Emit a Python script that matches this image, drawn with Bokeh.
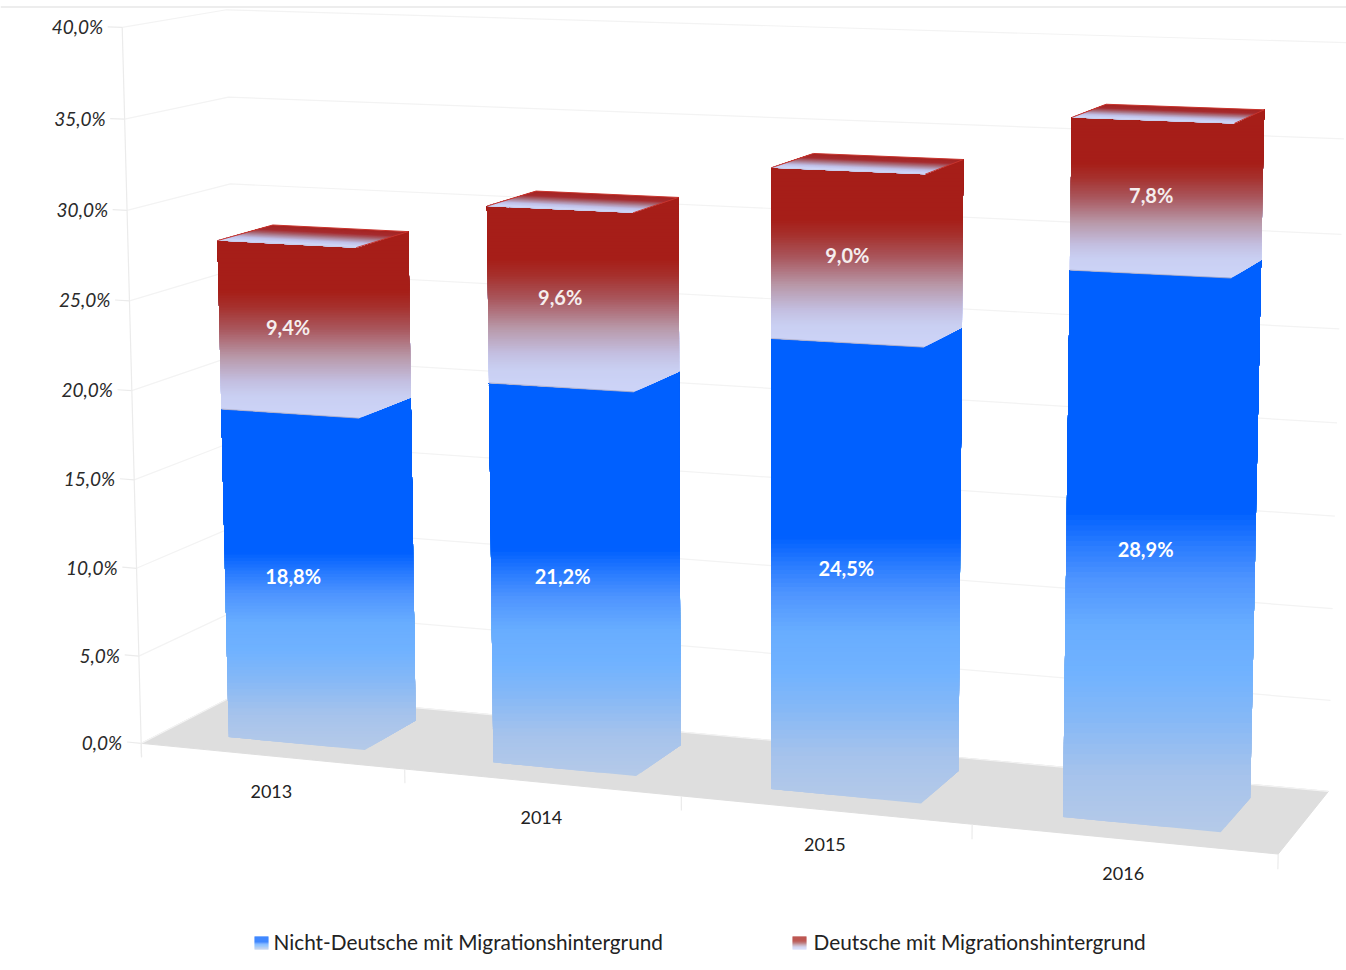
import numpy as np
from bokeh.plotting import figure
from bokeh.models import Range1d, Span
from bokeh.core.properties import value
from bokeh.embed import file_html
from bokeh.resources import INLINE

years = ["2013", "2014", "2015", "2016"]
non_german = [18.8, 21.2, 24.5, 28.9]
german = [9.4, 9.6, 9.0, 7.8]
y_ticks = [0, 5, 10, 15, 20, 25, 30, 35, 40]
legend_labels = ["Nicht-Deutsche mit Migrationshintergrund", "Deutsche mit Migrationshintergrund"]

# bar footprint inside one category cell of the 3D scene
BAR_X0, BAR_X1, BAR_Z0, BAR_Z1 = 0.26, 0.78, 0.20, 0.75
BAR_BASE = 0.12
N_CAT, V_MAX = 4, 40.0

# camera calibration: scene (x, value, z) -> picture (px, py)
walls = [((0, 0, 0), (141, 743)), ((4, 0, 0), (1280, 855)), ((4, 0, 1), (1331, 790)),
         ((0, 0, 1), (243, 691)), ((0, 40, 0), (123, 26)), ((0, 40, 1), (222, 9)),
         ((1, 0, 0), (405, 771)), ((2, 0, 0), (682, 800)), ((3, 0, 0), (973, 826))]
def bar_pts(i, v1, v2, q):
    x0, x1 = i + BAR_X0, i + BAR_X1
    return [((x0, 0, BAR_Z0), q[0]), ((x1, 0, BAR_Z0), q[1]), ((x1, 0, BAR_Z1), q[2]),
            ((x0, v1, BAR_Z0), q[3]), ((x1, v1, BAR_Z0), q[4]), ((x1, v1, BAR_Z1), q[5]),
            ((x0, v2, BAR_Z0), q[6]), ((x1, v2, BAR_Z0), q[7]), ((x1, v2, BAR_Z1), q[8]),
            ((x0, v2, BAR_Z1), q[9])]
seen = [[(227, 738), (365, 750), (415, 722), (220, 408), (358, 417), (411, 398), (217, 240), (360, 247), (409, 232), (270, 225)],
        [(491, 764), (635, 776), (680, 746), (488, 382), (635, 391), (679, 372), (486, 206), (633, 212), (679, 197), (538, 191)],
        [(769, 790), (920, 803), (957, 773), (769, 338), (922, 346), (961, 328), (770, 167), (925, 174), (963, 159), (815, 153)],
        [(1060, 817), (1220, 833), (1248, 800), (1068, 269), (1228, 276), (1260, 260), (1070, 117), (1237, 123), (1264, 110), (1105, 104)]]
anchors = list(walls)
for i in range(N_CAT):
    anchors += bar_pts(i, non_german[i], non_german[i] + german[i], seen[i])

rows = []
for (X, V, Z), (u, w) in anchors:
    u, w = u / 1000.0, w / 1000.0
    W = [X, V / 10.0, Z, 1.0]
    rows.append(W + [0, 0, 0, 0] + [-u * c for c in W])
    rows.append([0, 0, 0, 0] + W + [-w * c for c in W])
CAM = np.linalg.svd(np.array(rows))[2][-1].reshape(3, 4)

def proj(x, v, z):
    h = CAM @ np.array([x, v / 10.0, z, 1.0])
    return 1000.0 * h[0] / h[2], 1000.0 * h[1] / h[2]

def mix(stops, t):
    ts = [s[0] for s in stops]
    rgb = [np.interp(t, ts, [int(s[1][k:k + 2], 16) for s in stops]) for k in (1, 3, 5)]
    return "#%02x%02x%02x" % tuple(int(round(c)) for c in rgb)

BLUE = [(0, "#b5cae8"), (0.10, "#a6c3ec"), (0.20, "#85b8f6"), (0.28, "#70b2ff"), (0.36, "#68adff"),
        (0.44, "#4f95ff"), (0.50, "#2a7cff"), (0.56, "#0060ff"), (1, "#0060ff")]
RED = [(0, "#cdd4f8"), (0.12, "#c9cff2"), (0.20, "#c3bee0"), (0.33, "#b898a8"), (0.48, "#a9565c"),
       (0.60, "#a6302c"), (0.68, "#a61e18"), (1, "#a61e18")]
CAP = [(0, "#a52420"), (0.28, "#a62c30"), (0.48, "#a86a78"), (0.75, "#c0c0e8"), (0.95, "#cfd8fa"), (1, "#c8c0d4")]

p = figure(width=1346, height=970, output_backend="svg", toolbar_location=None,
           x_range=Range1d(0, 1346), y_range=Range1d(970, 0), min_border=0,
           x_axis_type=None, y_axis_type=None, outline_line_color=None)
p.grid.visible = False
p.background_fill_color = "white"
p.add_layout(Span(location=6.5, dimension="width", line_color="#dcdcdc", line_width=1.2))

def poly(corners):
    pts = [proj(*c) for c in corners]
    return [a for a, _ in pts], [b for _, b in pts]

# floor
fx, fy = poly([(0, 0, 0), (N_CAT, 0, 0), (N_CAT, 0, 1), (0, 0, 1)])
p.patch(fx, fy, fill_color="#dedede", line_color="#dedede")

# wall grid, axis, ticks
GRID = "#f3f3f3"
AXIS = "#ebebeb"
for t in y_ticks:
    a = proj(-0.055, t, 0); b = proj(0, t, 0); c = proj(0, t, 1); d = proj(N_CAT, t, 1)
    p.line([b[0], c[0], d[0]], [b[1], c[1], d[1]], line_color=GRID, line_width=1.2)
    p.line([a[0], b[0]], [a[1], b[1]], line_color=AXIS, line_width=1.2)
ax, ay = poly([(0, -0.8, 0), (0, V_MAX, 0)])
p.line(ax, ay, line_color=AXIS, line_width=1.2)
for i in range(N_CAT + 1):
    tx, ty = poly([(i, 0, 0), (i, -0.8, 0)])
    p.line(tx, ty, line_color=AXIS, line_width=1.2)

def clip_above(px, py, limit):
    """Part of a convex outline that lies above the picture height `limit`."""
    ox, oy = [], []
    m = len(px)
    for k in range(m):
        x1, y1, x2, y2 = px[k], py[k], px[(k + 1) % m], py[(k + 1) % m]
        if y1 <= limit:
            ox.append(x1); oy.append(y1)
        if (y1 <= limit) != (y2 <= limit):
            s = (limit - y1) / (y2 - y1)
            ox.append(x1 + s * (x2 - x1)); oy.append(limit)
    return ox, oy

def fade(px, py, stops, n=110):
    """Fill an outline with a fade that runs straight up the picture."""
    lo, hi = max(py), min(py)
    xs, ys, cs = [], [], []
    for k in range(n):
        limit = lo + (hi - lo) * k / n
        qx, qy = clip_above(px, py, limit + 0.01)
        if len(qx) >= 3:
            xs.append(qx); ys.append(qy); cs.append(mix(stops, (k + 0.5) / n))
    p.patches(xs, ys, fill_color=cs, line_color=None)

for i in range(N_CAT):
    b = non_german[i]; t = b + german[i]
    x0, x1 = i + BAR_X0, i + BAR_X1
    for v0, v1, stops in ((BAR_BASE, b, BLUE), (b, t, RED)):
        hx, hy = poly([(x0, v0, BAR_Z0), (x1, v0, BAR_Z0), (x1, v0, BAR_Z1),
                       (x1, v1, BAR_Z1), (x1, v1, BAR_Z0), (x0, v1, BAR_Z0)])
        fade(hx, hy, stops)
    # top face, back to front
    xs, ys, cs = [], [], []
    n = 30
    for k in range(n):
        z1 = BAR_Z1 + (BAR_Z0 - BAR_Z1) * k / n
        qx, qy = poly([(x0, t, z1), (x1, t, z1), (x1, t, BAR_Z0), (x0, t, BAR_Z0)])
        xs.append(qx); ys.append(qy); cs.append(mix(CAP, (k + 0.5) / n))
    p.patches(xs, ys, fill_color=cs, line_color=None)
    ex, ey = poly([(x0, t, BAR_Z0), (x0, t, BAR_Z1), (x1, t, BAR_Z1), (x1, t, BAR_Z0)])
    p.line(ex, ey, line_color="#c8332c", line_width=1)
    sx, sy = poly([(x0, b, BAR_Z0), (x1, b, BAR_Z0)])
    p.line(sx, sy, line_color="#a9a9c4", line_width=0.8)

def text(x, y, s, size, color="#222222", align="left", style="normal", dy=0):
    p.text([x], [y], text=[s], text_font=value("Lato"), text_font_size=size, text_color=color,
           text_align=align, text_baseline="middle", text_font_style=style, y_offset=dy)

def pct(v):
    return f"{v:.1f}".replace(".", ",") + "%"

for t in y_ticks:
    x, y = proj(0, t, 0)
    text(x - 19, y, pct(t), "19px", "#2a2a2a", "right", "italic", dy=-1)

for i, yr in enumerate(years):
    x, y = proj(i + 0.5, 0, 0)
    text(x, y, yr, "18px", "#222222", "center", dy=35)

for i in range(N_CAT):
    mid = i + (BAR_X0 + BAR_X1) / 2
    b = non_german[i]; g = german[i]
    x, y = proj(mid, b / 2, BAR_Z0)
    text(x, y, pct(b), "20px", "#ffffff", "center", "bold", dy=-5)
    x, y = proj(mid, b + g / 2, BAR_Z0)
    text(x, y, pct(g), "20px", "#f5eeee", "center", "bold", dy=-2)

# legend
for lx, tx, stops, lab in ((254, 273, BLUE, legend_labels[0]), (792, 813, RED, legend_labels[1])):
    n = 13
    xs = [[lx, lx + 14, lx + 14, lx] for _ in range(n)]
    ys = [[936 + k, 936 + k, 937 + k, 937 + k] for k in range(n)]
    cs = [mix(stops, 1 - (k + 0.5) / n) for k in range(n)]
    p.patches(xs, ys, fill_color=cs, line_color=None)
    text(tx, 940.5, lab, "20.8px", "#222222")

open("out.html", "w").write(file_html(p, INLINE))
